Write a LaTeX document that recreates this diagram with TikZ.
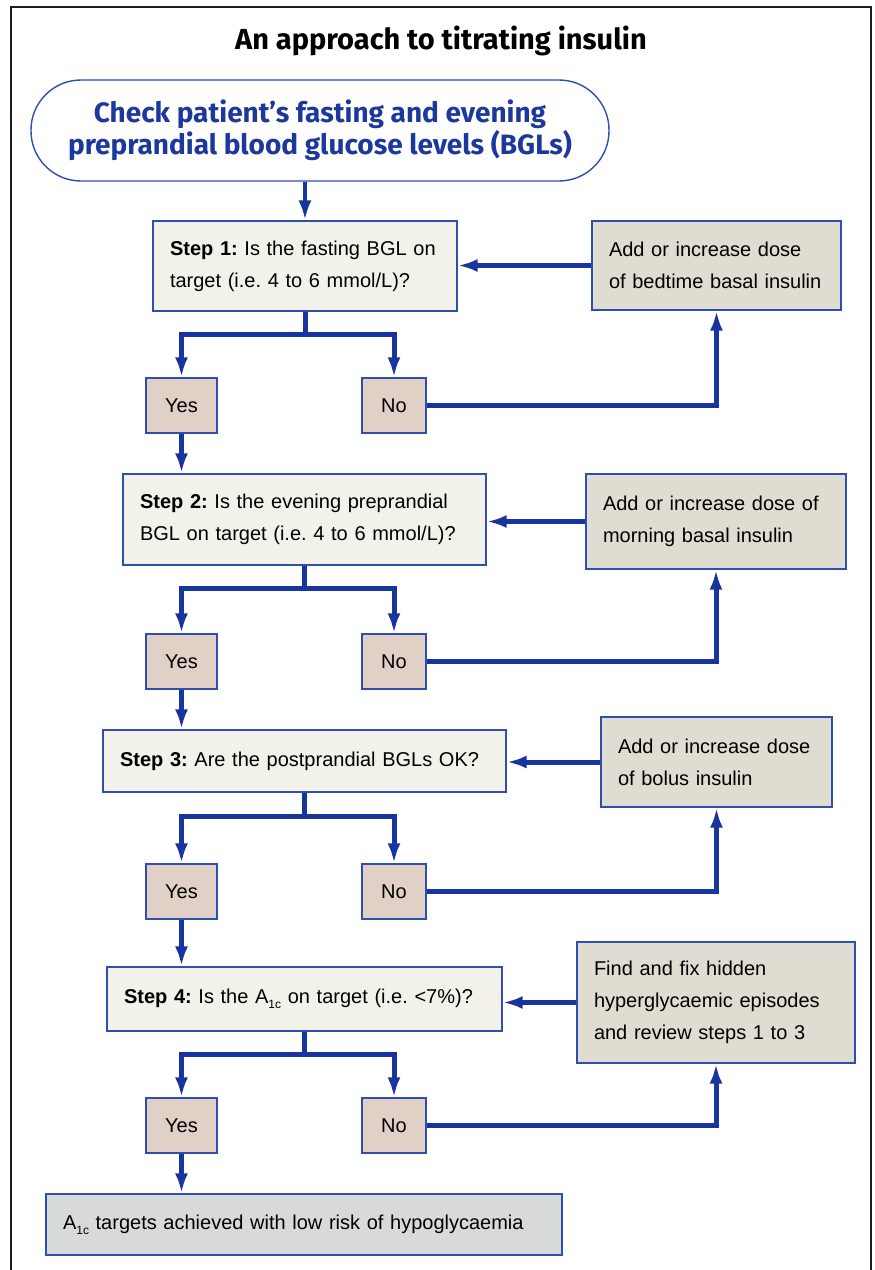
\documentclass[tikz,border=0pt]{standalone}
\usepackage{fontspec}
\setmainfont{Liberation Sans}
\newfontfamily\headfont{Fira Sans}
\usepackage{xcolor}
\usetikzlibrary{arrows.meta}
\frenchspacing
\definecolor{lineblue}{RGB}{22,53,158}
\definecolor{boxblue}{RGB}{48,78,178}
\definecolor{pillblue}{RGB}{28,56,156}
\definecolor{stepfill}{RGB}{243,242,234}
\definecolor{addfill}{RGB}{223,221,209}
\definecolor{ynfill}{RGB}{224,208,197}
\definecolor{endfill}{RGB}{216,217,217}
\definecolor{framegray}{RGB}{30,30,30}
\newcommand{\Aonec}{A\raisebox{-0.45ex}{\fontsize{6}{6}\selectfont 1c}}
\tikzset{
  conn/.style={draw=lineblue,line width=2.5pt},
  arrowtip/.style={-{Latex[length=10pt,width=6.5pt]}},
  stepbox/.style={draw=boxblue,line width=0.7pt,fill=stepfill,align=left,inner xsep=8.5pt,inner ysep=0pt,font=\fontsize{10}{16}\selectfont},
  addbox/.style={stepbox,fill=addfill},
  ynbox/.style={draw=boxblue,line width=0.7pt,fill=ynfill,inner sep=0pt,minimum height=27.5pt,font=\fontsize{10}{16}\selectfont}
}

\begin{document}
\begin{tikzpicture}[x=0.5pt,y=-0.5pt]
\useasboundingbox (0,0) rectangle (874,1270);
\draw [framegray,line width=1.2pt] (11,1270) -- (11,7) -- (871,7) -- (871,1270);

\node (title) at (441,41) {\headfont\bfseries\fontsize{14.5}{16}\selectfont An approach to titrating insulin};
\node [draw=boxblue,line width=0.7pt,rounded corners=25pt,minimum width=289pt,minimum height=50.5pt,align=center,text=pillblue,font=\headfont\bfseries\fontsize{14}{16}\selectfont] (start) at (320,130.5) {Check patient’s fasting and evening\\preprandial blood glucose levels (BGLs)};

%% step 1
\node [stepbox,minimum width=152pt,text width=135pt,minimum height=45pt] (step1) at (305,266) {\textbf{Step 1:} Is the fasting BGL on\\target (i.e. 4 to 6 mmol/L)?};
\node [addbox,minimum width=124.5pt,text width=107.5pt,minimum height=44.5pt] (add1) at (716.5,265.5) {Add or increase dose\\of bedtime basal insulin};
\node [ynbox,minimum width=35.5pt] (yes1) at (181.5,405.5) {Yes};
\node [ynbox,minimum width=32pt] (no1) at (394,405.5) {No};

%% step 2
\node [stepbox,minimum width=181.5pt,text width=164.5pt,minimum height=45.5pt] (step2) at (304.5,519.5) {\textbf{Step 2:} Is the evening preprandial\\BGL on target (i.e. 4 to 6 mmol/L)?};
\node [addbox,minimum width=130pt,text width=113pt,minimum height=47.5pt] (add2) at (716,521.5) {Add or increase dose of\\morning basal insulin};
\node [ynbox,minimum width=35.5pt] (yes2) at (181.5,661.5) {Yes};
\node [ynbox,minimum width=32pt] (no2) at (394,661.5) {No};

%% step 3
\node [stepbox,minimum width=201.5pt,text width=184.5pt,minimum height=31pt] (step3) at (304.5,761) {\textbf{Step 3:} Are the postprandial BGLs OK?};
\node [addbox,minimum width=115.5pt,text width=98.5pt,minimum height=45pt] (add3) at (716.5,762) {Add or increase dose\\of bolus insulin};
\node [ynbox,minimum width=35.5pt] (yes3) at (181.5,891.5) {Yes};
\node [ynbox,minimum width=32pt] (no3) at (394,891.5) {No};

%% step 4
\node [stepbox,minimum width=197.5pt,text width=180.5pt,minimum height=32pt] (step4) at (304.5,999) {\textbf{Step 4:} Is the \Aonec{} on target (i.e. <7\%)?};
\node [addbox,minimum width=139pt,text width=122pt,minimum height=60.5pt] (add4) at (716,1002.5) {Find and fix hidden\\hyperglycaemic episodes\\and review steps 1 to 3};
\node [ynbox,minimum width=35.5pt] (yes4) at (181.5,1125.5) {Yes};
\node [ynbox,minimum width=32pt] (no4) at (394,1125.5) {No};

\node [stepbox,fill=endfill,minimum width=258pt,text width=241pt,minimum height=30.5pt] (done) at (304,1224.5) {\Aonec{} targets achieved with low risk of hypoglycaemia};

\draw [conn,line width=2pt] [arrowtip] (step1.north |- start.south) -- (step1.north);

\draw [conn] [arrowtip] (add1.west) -- (add1.west -| step1.east);
\draw [conn] [arrowtip] (step1.south) -- ++(0,23) -| (yes1.north);
\draw [conn] [arrowtip] (step1.south) -- ++(0,23) -| (no1.north);
\draw [conn] [arrowtip] (no1.east) -| (add1.south);
\draw [conn] [arrowtip] (yes1.south) -- (yes1.south |- step2.north);

\draw [conn] [arrowtip] (add2.west) -- (add2.west -| step2.east);
\draw [conn] [arrowtip] (step2.south) -- ++(0,23) -| (yes2.north);
\draw [conn] [arrowtip] (step2.south) -- ++(0,23) -| (no2.north);
\draw [conn] [arrowtip] (no2.east) -| (add2.south);
\draw [conn] [arrowtip] (yes2.south) -- (yes2.south |- step3.north);

\draw [conn] [arrowtip] (add3.west) -- (add3.west -| step3.east);
\draw [conn] [arrowtip] (step3.south) -- ++(0,24) -| (yes3.north);
\draw [conn] [arrowtip] (step3.south) -- ++(0,24) -| (no3.north);
\draw [conn] [arrowtip] (no3.east) -| (add3.south);
\draw [conn] [arrowtip] (yes3.south) -- (yes3.south |- step4.north);

\draw [conn] [arrowtip] (add4.west) -- (add4.west -| step4.east);
\draw [conn] [arrowtip] (step4.south) -- ++(0,23) -| (yes4.north);
\draw [conn] [arrowtip] (step4.south) -- ++(0,23) -| (no4.north);
\draw [conn] [arrowtip] (no4.east) -| (add4.south);
\draw [conn] [arrowtip] (yes4.south) -- (yes4.south |- done.north);

\end{tikzpicture}
\end{document}
